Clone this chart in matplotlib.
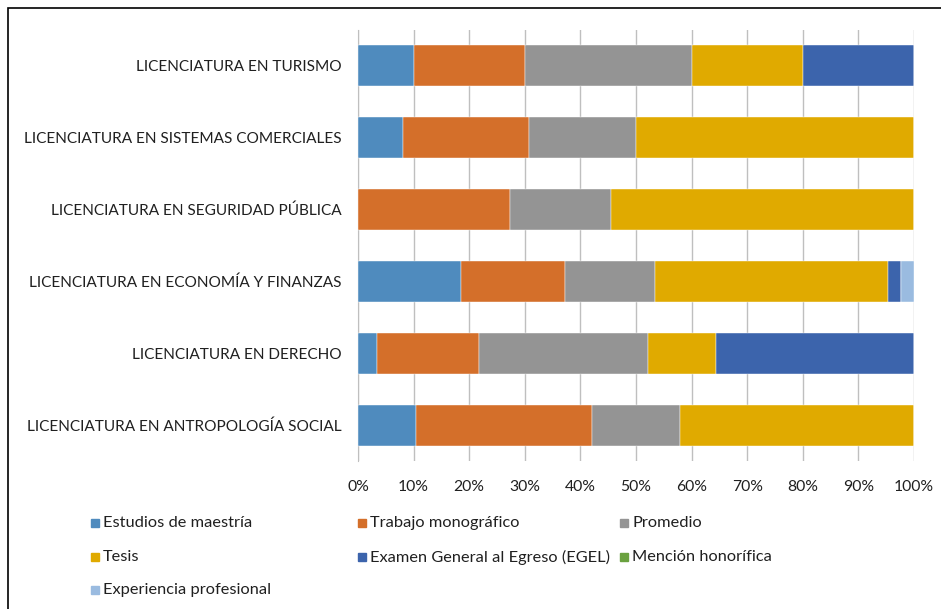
import matplotlib.pyplot as plt
from matplotlib.patches import Rectangle
import numpy as np

plt.rcParams["font.family"] = ["Lato", "DejaVu Sans"]

carreras = [
    "LICENCIATURA EN ANTROPOLOGÍA SOCIAL",
    "LICENCIATURA EN DERECHO",
    "LICENCIATURA EN ECONOMÍA Y FINANZAS",
    "LICENCIATURA EN SEGURIDAD PÚBLICA",
    "LICENCIATURA EN SISTEMAS COMERCIALES",
    "LICENCIATURA EN TURISMO",
]
modalidades = [
    "Estudios de maestría",
    "Trabajo monográfico",
    "Promedio",
    "Tesis",
    "Examen General al Egreso (EGEL)",
    "Mención honorífica",
    "Experiencia profesional",
]
colores = ["#4f8bbe", "#d46f2a", "#949494", "#e0aa00", "#3c64ac", "#6aa13f", "#9abbe0"]

# porcentajes por carrera (mismo orden que carreras)
maestria = [10.5, 3.5, 18.6, 0.0, 8.1, 10.0]
monografico = [31.6, 18.3, 18.6, 27.3, 22.6, 20.0]
promedio = [15.8, 30.3, 16.3, 18.2, 19.3, 30.0]
tesis = [42.1, 12.3, 41.9, 54.5, 50.0, 20.0]
egel = [0.0, 35.6, 2.3, 0.0, 0.0, 20.0]
mencion = [0.0, 0.0, 0.0, 0.0, 0.0, 0.0]
experiencia = [0.0, 0.0, 2.3, 0.0, 0.0, 0.0]
series = [maestria, monografico, promedio, tesis, egel, mencion, experiencia]

W, H = 941, 609
fig = plt.figure(figsize=(W / 100, H / 100), dpi=100)
ax = fig.add_axes([358 / W, 1 - 461 / H, (914 - 358) / W, (461 - 30) / H])

y = np.arange(len(carreras))
left = np.zeros(len(carreras))
for vals, col in zip(series, colores):
    vals = np.array(vals)
    ax.barh(y, vals, left=left, height=0.57, color=col, zorder=3,
            edgecolor="white", linewidth=0.3)
    left += vals

ax.set_xlim(0, 100)
ax.set_ylim(-0.5, len(carreras) - 0.5)
ax.set_xticks(np.arange(0, 101, 10))
ax.set_xticklabels([f"{v}%" for v in range(0, 101, 10)], fontsize=11.3, color="#202020")
ax.set_yticks(y)
ax.set_yticklabels(carreras, fontsize=11.1, color="#202020")
ax.tick_params(axis="y", length=0, pad=12)
ax.tick_params(axis="x", length=0, pad=14)
ax.grid(axis="x", color="#bfbfbf", linewidth=1, zorder=0)
for s in ["top", "right", "bottom"]:
    ax.spines[s].set_visible(False)
ax.spines["left"].set_color("#bfbfbf")

# marco del gráfico
fig.patches.append(Rectangle((8 / W, -0.1), 1.2, 1 - 8 / H + 0.1, transform=fig.transFigure,
                             fill=False, edgecolor="black", linewidth=1.2))

# leyenda en filas, como Excel
xs = [91, 358, 620]
ys = [523, 557, 590]
for i, (lab, col) in enumerate(zip(modalidades, colores)):
    cx, cy = xs[i % 3], ys[i // 3]
    fig.patches.append(Rectangle((cx / W, 1 - (cy + 4) / H), 8 / W, 8 / H,
                                 transform=fig.transFigure, color=col))
    fig.text((cx + 12) / W, 1 - cy / H, lab, fontsize=11.8, va="center", ha="left",
             color="#202020")

fig.savefig("out.png", dpi=100)
